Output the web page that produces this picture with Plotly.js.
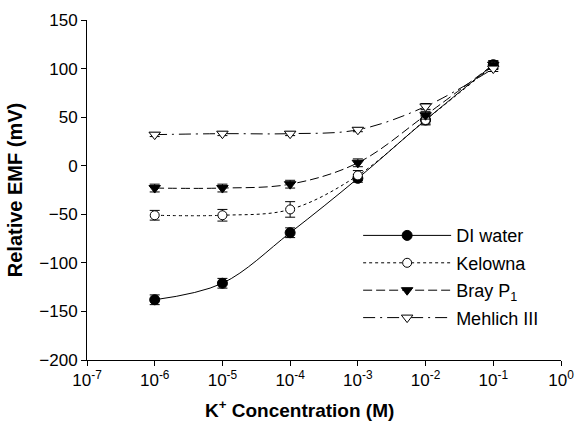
<!DOCTYPE html>
<html><head><meta charset="utf-8">
<script src="https://cdn.plot.ly/plotly-3.0.1.min.js"></script>
<style>body{margin:0;padding:0;background:#fff}#chart{width:578px;height:423px}</style>
</head><body><div id="chart"></div>
<script>
const conc = [1e-6, 1e-5, 1e-4, 1e-3, 1e-2, 1e-1];
const diWater = [-138, -121, -69, -13, 47, 104];
const diErr = [5, 5, 5, 4, 5, 4];
const kelowna = [-51, -51, -45, -10, 47, 103];
const kelErr = [5, 6, 8, 5, 4, 4];
const bray = [-23, -23, -19, 3, 52, 104];
const brayErr = [4, 4, 4, 4, 4, 4];
const mehlich = [32, 33, 33, 37, 61, 100];
const mehErr = [2, 2, 2, 2, 3, 3];
const names = ["DI water", "Kelowna", "Bray P<sub>1</sub>", "Mehlich III"];
const xTickVals = [1e-7, 1e-6, 1e-5, 1e-4, 1e-3, 1e-2, 1e-1, 1];
const xTickText = ["10<sup>-7</sup>","10<sup>-6</sup>","10<sup>-5</sup>","10<sup>-4</sup>","10<sup>-3</sup>","10<sup>-2</sup>","10<sup>-1</sup>","10<sup>0</sup>"];
const yTickVals = [-200, -150, -100, -50, 0, 50, 100, 150];

function tr(y, err, name, dash, symbol, fill, size, grp) {
  return {
    x: conc, y: y, name: name, type: 'scatter', mode: 'lines+markers',
    legendgroup: grp,
    line: {color: 'black', width: 1, dash: dash, shape: 'spline', smoothing: 1},
    marker: {symbol: symbol, size: size, color: fill, line: {color: 'black', width: 1}},
    error_y: {type: 'data', array: err, visible: true, color: 'black', thickness: 1, width: 5}
  };
}
const data = [
  tr(diWater, diErr, names[0], 'solid', 'circle', 'black', 10, 'a'),
  tr(kelowna, kelErr, names[1], 'dot', 'circle', 'white', 9, 'b'),
  tr(bray, brayErr, names[2], '9px,4px', 'triangle-down', 'black', 10, 'c'),
  tr(mehlich, mehErr, names[3], '12px,5px,2px,5px', 'triangle-down', 'white', 10, 'd')
];

const layout = {
  width: 578, height: 423,
  margin: {l: 87, r: 17, t: 20, b: 63},
  paper_bgcolor: 'white', plot_bgcolor: 'white',
  font: {family: 'Liberation Sans, Arial, sans-serif', color: 'black', size: 17},
  showlegend: true,
  legend: {x: 0.572, y: 0.42, xanchor: 'left', yanchor: 'top', bgcolor: 'rgba(0,0,0,0)',
           traceorder: 'grouped', tracegroupgap: 1, itemwidth: 88, font: {size: 18}},
  xaxis: {
    type: 'log', range: [-7, 0], tickvals: xTickVals, ticktext: xTickText,
    showgrid: false, zeroline: false, showline: true, linecolor: 'black', linewidth: 1,
    ticks: 'outside', ticklen: 5, tickcolor: 'black', tickfont: {size: 17}
  },
  yaxis: {
    range: [-200, 150], tickvals: yTickVals,
    showgrid: false, zeroline: false, showline: true, linecolor: 'black', linewidth: 1,
    ticks: 'outside', ticklen: 5, tickcolor: 'black', tickfont: {size: 17},
    title: {text: '<b>Relative EMF (mV)</b>', font: {size: 20}, standoff: 11}
  },
  annotations: [{
    text: '<b>K<sup>+</sup> Concentration (M)</b>', xref: 'paper', yref: 'paper',
    x: 0.449, y: -0.143, xanchor: 'center', yanchor: 'middle', showarrow: false,
    font: {size: 19}
  }]
};
Plotly.newPlot('chart', data, layout, {displayModeBar: false, staticPlot: true});
</script></body></html>
